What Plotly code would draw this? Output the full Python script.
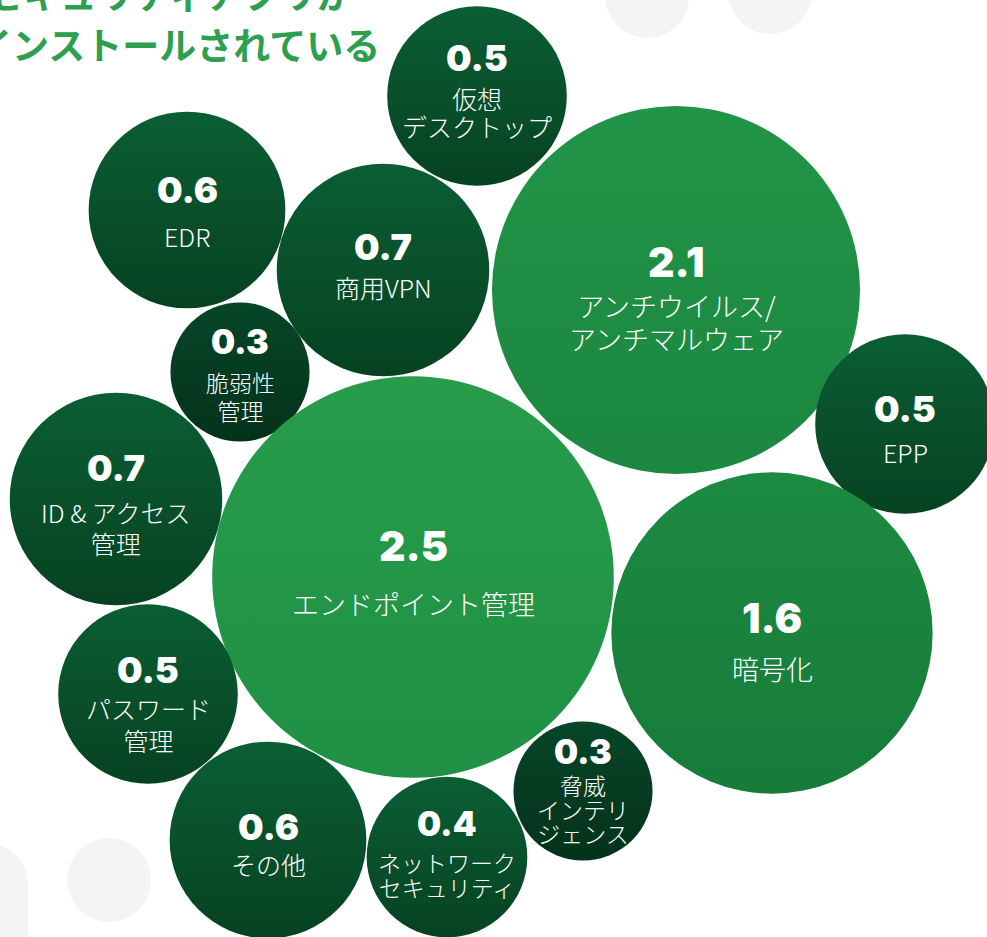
import plotly.graph_objects as go
import numpy as np

# ---- data ----
labels = [
    ["仮想", "デスクトップ"],
    ["EDR"],
    ["商用VPN"],
    ["アンチウイルス/", "アンチマルウェア"],
    ["脆弱性", "管理"],
    ["EPP"],
    ["ID & アクセス", "管理"],
    ["エンドポイント管理"],
    ["暗号化"],
    ["パスワード", "管理"],
    ["その他"],
    ["ネットワーク", "セキュリティ"],
    ["脅威", "インテリ", "ジェンス"],
]
values = [0.5, 0.6, 0.7, 2.1, 0.3, 0.5, 0.7, 2.5, 1.6, 0.5, 0.6, 0.4, 0.3]

title_lines = ["セキュリティアプリが", "インストールされている"]

# ---- layout (packed bubble centres and text offsets, pixel space) ----
pos_x = [477, 187, 383, 676, 240, 905, 116, 413, 772, 148, 268, 447, 583]
pos_y = [96, 210, 270, 290, 372, 424, 499, 577, 633, 694, 840, 857, 791]
val_dy = [-36, -18, -21, -26, -29, -13, -29, -29, -13, -22, -11, -32, -38]
lab_dy = [2, 26, 17, 15, 10, 28, 13, 26, 35, 14, 24, 5, -6]
line_gap = [28, 30, 30, 33, 28, 30, 31, 33, 33, 32, 30, 25, 24]

W, H = 987, 937
K = 127.0  # px radius per sqrt(value)


def hexmix(a, b, t):
    a = [int(a[i:i + 2], 16) for i in (1, 3, 5)]
    b = [int(b[i:i + 2], 16) for i in (1, 3, 5)]
    return "#" + "".join(f"{round(x + (y - x) * t):02x}" for x, y in zip(a, b))


def colours(v):
    if v >= 1.0:
        t = min(max((v - 1.6) / 0.9, 0), 1)
        return hexmix("#1c8a41", "#279c4b", t), hexmix("#177b3a", "#1f9044", t)
    if v <= 0.3:
        return "#074628", "#04321b"
    return "#0b5e34", "#064221"


vals = np.array(values)
diam = 2 * K * np.sqrt(vals)
cols = [colours(v) for v in values]

fig = go.Figure()

bg = "#f3f5f4"
shapes = [
    dict(type="circle", xref="x", yref="y", x0=605, x1=689, y0=-46, y1=38, fillcolor=bg, line_width=0, layer="below"),
    dict(type="circle", xref="x", yref="y", x0=728, x1=812, y0=-50, y1=34, fillcolor=bg, line_width=0, layer="below"),
    dict(type="circle", xref="x", yref="y", x0=67, x1=151, y0=838, y1=922, fillcolor=bg, line_width=0, layer="below"),
    dict(type="circle", xref="x", yref="y", x0=-56, x1=28, y0=843, y1=927, fillcolor=bg, line_width=0, layer="below"),
    dict(type="rect", xref="x", yref="y", x0=-56, x1=28, y0=885, y1=960, fillcolor=bg, line_width=0, layer="below"),
]

fig.add_trace(go.Scatter(
    x=pos_x, y=pos_y, mode="markers",
    marker=dict(
        size=diam, sizemode="diameter",
        color=[c[0] for c in cols],
        gradient=dict(type="vertical", color=[c[1] for c in cols]),
        line=dict(width=0), opacity=1,
    ),
    hoverinfo="skip", cliponaxis=False,
))

annotations = []
for i, (v, lab) in enumerate(zip(values, labels)):
    cx, cy = pos_x[i], pos_y[i]
    if v >= 1.0:
        vf, lf = 41, 27
    elif v <= 0.4:
        vf, lf = 34, 23
    else:
        vf, lf = 36, 25
    annotations.append(dict(
        x=cx, y=cy + val_dy[i] - 2, xref="x", yref="y", text=f"{v:.1f}", showarrow=False,
        xanchor="center", yanchor="middle",
        font=dict(family="Inter", size=vf, color="white", weight=900),
    ))
    n = len(lab)
    base = line_gap[i] / 1.3
    txt = "<br>".join(f"<span style='font-size:{lf}px'>{line}</span>" for line in lab)
    annotations.append(dict(
        x=cx, y=cy + lab_dy[i] + (n - 1) * line_gap[i] / 2, xref="x", yref="y", text=txt, showarrow=False,
        xanchor="center", yanchor="middle", align="center",
        font=dict(family="Noto Sans CJK JP", size=base, color="white", weight=300),
    ))

# title (partly cut off at the top-left)
annotations.append(dict(x=356 / W, y=1 + 7 / H, xref="paper", yref="paper", text=title_lines[0], showarrow=False,
                        xanchor="right", yanchor="middle",
                        font=dict(family="Noto Sans CJK JP", size=37, color="#2e9e4f", weight=700)))
annotations.append(dict(x=382 / W, y=1 - 44 / H, xref="paper", yref="paper", text=title_lines[1], showarrow=False,
                        xanchor="right", yanchor="middle",
                        font=dict(family="Noto Sans CJK JP", size=37, color="#2e9e4f", weight=700)))

fig.update_layout(
    width=W, height=H, margin=dict(l=0, r=0, t=0, b=0),
    paper_bgcolor="white", plot_bgcolor="white",
    xaxis=dict(range=[0, W], visible=False, fixedrange=True),
    yaxis=dict(range=[H, 0], visible=False, fixedrange=True),
    showlegend=False, shapes=shapes, annotations=annotations,
)

fig.write_html("out.html", config={"displayModeBar": False})
